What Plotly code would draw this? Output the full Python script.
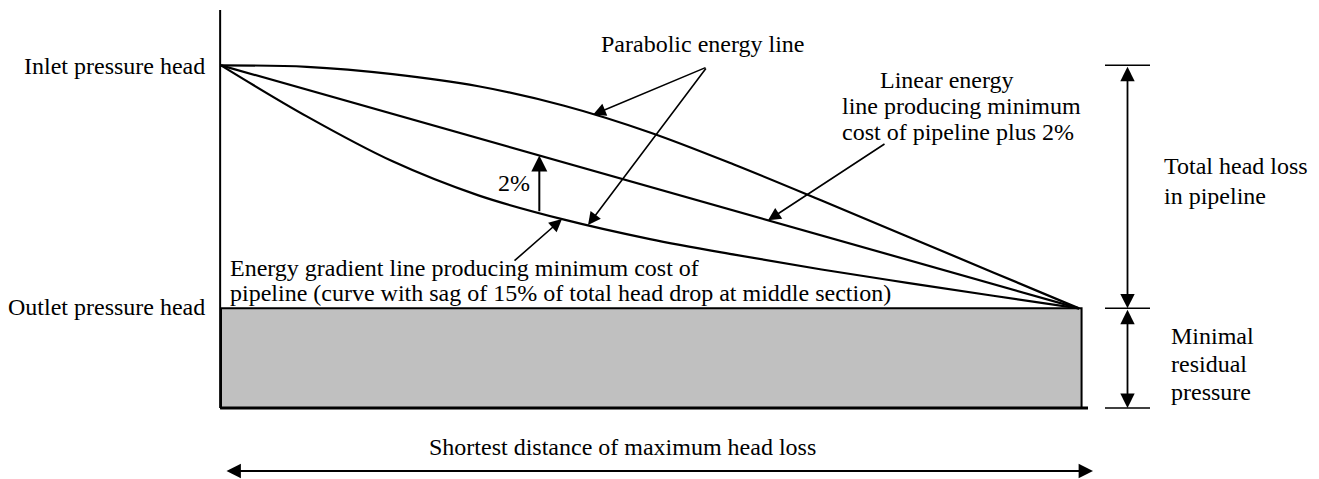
import numpy as np
import plotly.graph_objects as go

# ---------------- data ----------------
# distance along pipeline (% of length) and fraction of total head drop reached
parabolic_t = [0, 10, 20, 30, 40, 50, 60, 70, 80, 90, 100]
parabolic_f = [0, 0.006, 0.036, 0.086, 0.166, 0.276, 0.411, 0.556, 0.704, 0.852, 1.0]
linear_t = [0, 100]
linear_f = [0, 1.0]
mincost_t = [0, 10, 20, 30, 40, 50, 60, 70, 80, 90, 100]
mincost_f = [0, 0.21, 0.395, 0.535, 0.635, 0.715, 0.78, 0.84, 0.895, 0.948, 1.0]

total_head_loss = 100.0      # inlet - outlet head (relative units)
residual_pressure = 41.0     # outlet head above base
pipe_length = 100.0
two_pct_at = 37.1            # position of the "2%" marker (% of length)

# ---------------- helpers ----------------
def head(f):
    return residual_pressure + total_head_loss * (1 - np.asarray(f, dtype=float))

inlet_head = residual_pressure + total_head_loss
outlet_head = residual_pressure

# pixel <-> data mapping for layout (page is 1319 x 479, no margins)
W, H = 1319, 479
X0, XS = 221.0, 8.58   # pixel of x=0, pixels per unit
Y0, YS = 408.0, 2.43   # pixel of head=0, pixels per unit
def dx(px):
    return (px - X0) / XS
def dy(py):
    return (Y0 - py) / YS

def on(t_list, f_list, t):
    return float(head(np.interp(t, t_list, f_list)))

FONT = "Liberation Serif, Times New Roman, serif"

fig = go.Figure()

# grey base block (minimal residual pressure)
fig.add_shape(type="rect", x0=0, x1=pipe_length * 1.003, y0=0, y1=residual_pressure,
              fillcolor="#c0c0c0", line=dict(color="black", width=2), layer="below")
fig.add_shape(type="line", x0=-0.1, x1=dx(1088), y0=0, y1=0,
              line=dict(color="black", width=3))
# vertical axis
fig.add_shape(type="line", x0=-0.1, x1=-0.1, y0=0, y1=dy(10),
              line=dict(color="black", width=2))

line_style = dict(color="black", width=2.2)
fig.add_trace(go.Scatter(x=parabolic_t, y=head(parabolic_f), mode="lines",
                         line=dict(**line_style, shape="spline", smoothing=1.0),
                         hoverinfo="skip"))
fig.add_trace(go.Scatter(x=linear_t, y=head(linear_f), mode="lines",
                         line=line_style, hoverinfo="skip"))
fig.add_trace(go.Scatter(x=mincost_t, y=head(mincost_f), mode="lines",
                         line=dict(**line_style, shape="spline", smoothing=1.0),
                         hoverinfo="skip"))

annotations = []

def arrow(x, y, ax, ay, both=False, width=1.6, size=1.6):
    annotations.append(dict(x=x, y=y, ax=ax, ay=ay, xref="x", yref="y",
                            axref="x", ayref="y", text="", showarrow=True,
                            arrowhead=2, arrowsize=size, arrowwidth=width,
                            arrowcolor="black",
                            arrowside="end+start" if both else "end"))

def label(text, px, py, xanchor="left", size=24):
    annotations.append(dict(x=dx(px), y=dy(py), xref="x", yref="y", text=text,
                            showarrow=False, xanchor=xanchor, yanchor="middle",
                            font=dict(family=FONT, size=size, color="black")))

# arrows to the parabolic energy line label
t1 = dx(593)
arrow(t1, on(parabolic_t, parabolic_f, t1), dx(707), dy(67))
t2 = dx(588)
arrow(t2, on(mincost_t, mincost_f, t2), dx(707), dy(67))
# arrow to linear energy line
t3 = dx(768)
arrow(t3, on(linear_t, linear_f, t3), dx(886), dy(143))
# arrow to minimum cost curve
t4 = dx(562)
arrow(t4, on(mincost_t, mincost_f, t4), dx(513), dy(262))
# 2% arrow
arrow(two_pct_at, on(linear_t, linear_f, two_pct_at),
      two_pct_at, on(mincost_t, mincost_f, two_pct_at), width=2)

# right dimension lines
xa = dx(1127.5)
for hv in (inlet_head, outlet_head, 0):
    fig.add_shape(type="line", x0=dx(1105), x1=dx(1150), y0=hv, y1=hv,
                  line=dict(color="black", width=1.5))
arrow(xa, outlet_head, xa, inlet_head, both=True, width=1.8)
arrow(xa, 0, xa, outlet_head, both=True, width=1.8)
# bottom distance arrow
arrow(dx(1093), dy(471), dx(225), dy(471), both=True, width=1.8)

# text labels
label("Inlet pressure head", 207, 66, "right")
label("Outlet pressure head", 207, 307, "right")
label("Parabolic energy line", 702, 44, "center")
label("Linear energy", 878, 80)
label("line producing minimum", 840, 106)
label("cost of pipeline plus 2%", 840, 132)
label("Total head loss", 1162, 166)
label("in pipeline", 1162, 196)
label("Minimal", 1169, 336)
label("residual", 1169, 364)
label("pressure", 1169, 392)
label("2%", 532, 183, "right")
label("Energy gradient line producing minimum cost of", 228, 268)
label("pipeline (curve with sag of 15% of total head drop at middle section)", 228, 293)
label("Shortest distance of maximum head loss", 622, 447, "center")

fig.update_layout(
    width=W, height=H,
    margin=dict(l=0, r=0, t=0, b=0),
    paper_bgcolor="white", plot_bgcolor="white",
    showlegend=False,
    annotations=annotations,
    xaxis=dict(range=[dx(0), dx(W)], visible=False, fixedrange=True),
    yaxis=dict(range=[dy(H), dy(0)], visible=False, fixedrange=True),
)

fig.write_html("out.html", config={"displayModeBar": False},
               post_script="document.body.style.margin='0';document.body.style.overflow='hidden';")
